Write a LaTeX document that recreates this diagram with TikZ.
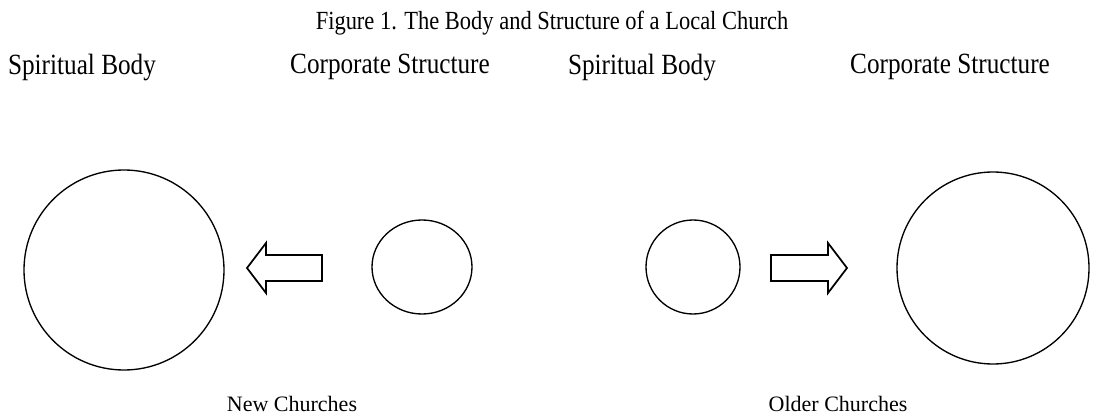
\documentclass[tikz,border=0pt]{standalone}
\usepackage{fontspec}
\setmainfont{Liberation Serif}
\usetikzlibrary{shapes.geometric}

% narrow serif look of the headings
\newcommand{\narrowtext}[1]{\scalebox{0.86}[1]{#1}}

\begin{document}
\begin{tikzpicture}[x=0.75pt, y=-0.75pt, line join=miter,
    lbl/.style={font=\fontsize{22}{25}\selectfont, inner sep=0pt},
    ring/.style={draw, circle, line width=1pt, inner sep=0pt},
    blockarrow/.style={draw, line width=1.3pt}]
    \useasboundingbox (0,0) rectangle (1106,420);

    \node[font=\fontsize{19.6}{23}\selectfont, inner sep=0pt] (title) at (552,23) {\narrowtext{Figure 1. The Body and Structure of a Local Church}};

    \node[lbl] (bodyA) at (82,67) {\narrowtext{Spiritual Body}};
    \node[lbl] (structA) at (390,67) {\narrowtext{Corporate Structure}};
    \node[lbl] (bodyB) at (642,67) {\narrowtext{Spiritual Body}};
    \node[lbl] (structB) at (950,67) {\narrowtext{Corporate Structure}};

    % new churches: big body, small structure
    \node[ring, minimum size=150pt] (bigA) at (124,270) {};
    \node[draw, ellipse, line width=1pt, inner sep=0pt, minimum width=75pt, minimum height=70.5pt] (smallA) at (422,267) {};
    \coordinate (tipA) at (247,268);
    \draw[blockarrow] (tipA) -- ++(19,-25) -- ++(0,12) -- ++(56,0) -- ++(0,26) -- ++(-56,0) -- ++(0,12) -- cycle;

    % older churches: small body, big structure
    \node[ring, minimum size=70.5pt] (smallB) at (693,267) {};
    \node[ring, minimum size=144pt] (bigB) at (993,268) {};
    \coordinate (tipB) at (847,268);
    \draw[blockarrow] (tipB) -- ++(-19,-25) -- ++(0,12) -- ++(-57,0) -- ++(0,26) -- ++(57,0) -- ++(0,12) -- cycle;

    \node[font=\fontsize{16.5}{19}\selectfont, inner sep=0pt] (newC) at (292,404) {New Churches};
    \node[font=\fontsize{16.5}{19}\selectfont, inner sep=0pt] (oldC) at (838,404) {Older Churches};
\end{tikzpicture}
\end{document}
